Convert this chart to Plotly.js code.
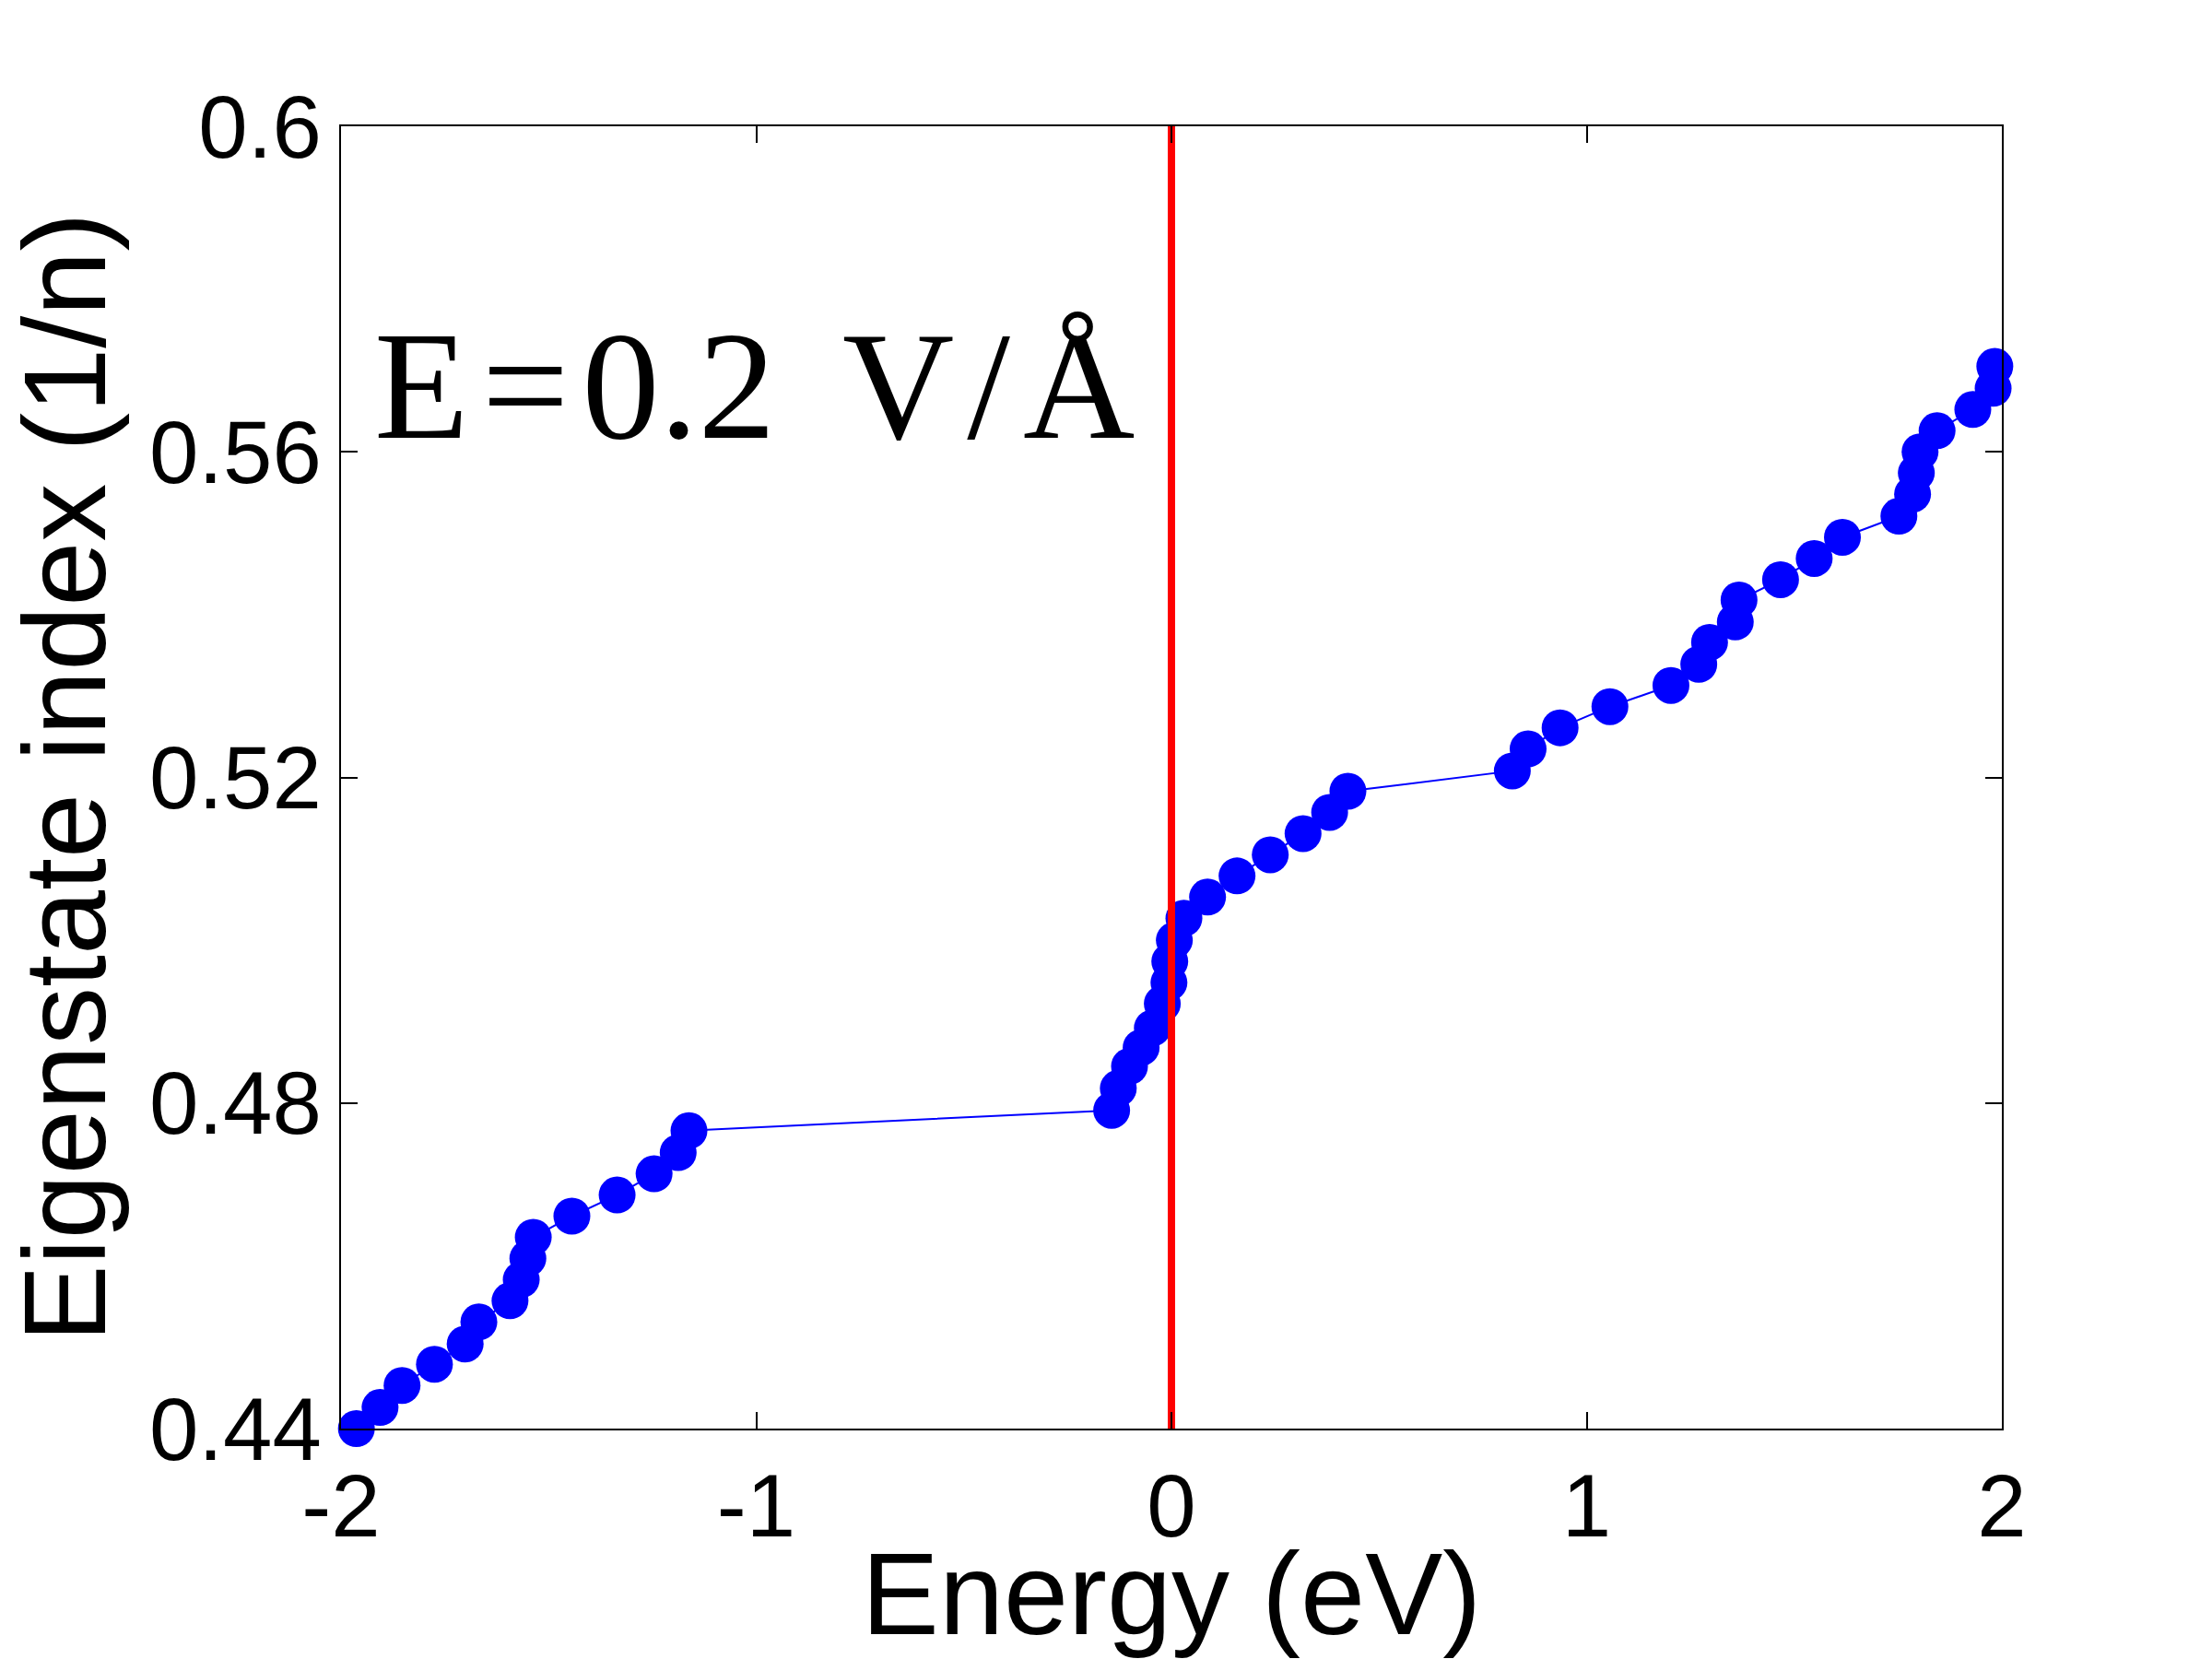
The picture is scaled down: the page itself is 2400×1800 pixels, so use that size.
<!DOCTYPE html>
<html>
<head>
<meta charset="utf-8">
<script src="https://cdn.plot.ly/plotly-3.0.1.min.js"></script>
<style>
  html, body { margin: 0; padding: 0; background: #fff; }
  #chart { width: 2400px; height: 1800px; }
</style>
</head>
<body>
<div id="chart"></div>
<script>
// eigenstate energies (eV)
let energy = [
  -1.963, -1.906, -1.853, -1.775, -1.701, -1.668, -1.593, -1.566, -1.550, -1.537,
  -1.444, -1.335, -1.246, -1.188, -1.162,
  -0.144, -0.128, -0.101, -0.073, -0.046, -0.022, -0.006, -0.004, 0.007, 0.030,
  0.087, 0.158, 0.238, 0.317, 0.381, 0.425,
  0.821, 0.859, 0.936, 1.056, 1.203, 1.270, 1.296, 1.358, 1.367, 1.467,
  1.548, 1.616, 1.752, 1.785, 1.794, 1.803, 1.844, 1.930, 1.979, 1.983
]
// eigenstate index (1/n)
let index_val = [
  0.4400, 0.4426, 0.4453, 0.4479, 0.4504, 0.4531, 0.4557, 0.4583, 0.4609, 0.4635,
  0.4661, 0.4687, 0.4713, 0.4739, 0.4766,
  0.4791, 0.4818, 0.4845, 0.4868, 0.4892, 0.4922, 0.4948, 0.4974, 0.5000, 0.5027,
  0.5053, 0.5079, 0.5105, 0.5131, 0.5157, 0.5183,
  0.5208, 0.5235, 0.5261, 0.5287, 0.5313, 0.5339, 0.5366, 0.5391, 0.5418, 0.5443,
  0.5469, 0.5495, 0.5521, 0.5548, 0.5574, 0.5600, 0.5626, 0.5652, 0.5678, 0.5705
]
// fermi level marker
let fermi_x = [0, 0]
let fermi_y = [0.44, 0.6]

let x_ticks = [-2, -1, 0, 1, 2]
let x_labels = ['-2', '-1', '0', '1', '2']
let y_ticks = [0.44, 0.48, 0.52, 0.56, 0.6]
let y_labels = ['0.44', '0.48', '0.52', '0.56', '0.6']

let field_label = 'E\u200a=\u200a0.2\u2009 V\u200a/\u200aÅ'

let graph_data = [
  {
    x: energy,
    y: index_val,
    type: 'scatter',
    mode: 'lines+markers',
    line: {color: 'rgb(0,0,255)', width: 2},
    marker: {color: 'rgb(0,0,255)', size: 40},
    cliponaxis: false,
  },
  {
    x: fermi_x,
    y: fermi_y,
    type: 'scatter',
    mode: 'lines',
    line: {color: 'rgb(255,0,0)', width: 8},
    cliponaxis: false,
  }
]

let axis_font = {family: 'Liberation Sans, Arial, sans-serif', size: 96, color: '#000'}
let title_font = {family: 'Liberation Sans, Arial, sans-serif', size: 126, color: '#000'}

var layout = {
  width: 2400,
  height: 1800,
  margin: {l: 370, r: 228, t: 137, b: 250},
  paper_bgcolor: '#fff',
  plot_bgcolor: '#fff',
  showlegend: false,
  xaxis: {
    range: [-2, 2],
    tickvals: x_ticks,
    ticktext: x_labels,
    tickfont: axis_font,
    ticks: 'inside',
    ticklen: 18,
    tickwidth: 2,
    tickcolor: '#000',
    showline: true,
    linecolor: '#000',
    linewidth: 2,
    mirror: 'ticks',
    showgrid: false,
    zeroline: false,
    title: {text: 'Energy (eV)', font: title_font, standoff: 36},
  },
  yaxis: {
    range: [0.44, 0.6],
    tickvals: y_ticks,
    ticktext: y_labels,
    tickfont: axis_font,
    ticks: 'inside',
    ticklen: 18,
    tickwidth: 2,
    tickcolor: '#000',
    showline: true,
    linecolor: '#000',
    linewidth: 2,
    mirror: 'ticks',
    showgrid: false,
    zeroline: false,
    title: {text: 'Eigenstate index (1/n)', font: title_font, standoff: 20},
  },
  annotations: [
    {
      x: -1.924,
      y: 0.5682,
      xref: 'x',
      yref: 'y',
      xanchor: 'left',
      yanchor: 'middle',
      text: field_label,
      showarrow: false,
      font: {family: 'Liberation Serif, Times New Roman, serif', size: 168, color: '#000'},
    }
  ],
};

Plotly.newPlot('chart', graph_data, layout, {displayModeBar: false});
</script>
</body>
</html>
